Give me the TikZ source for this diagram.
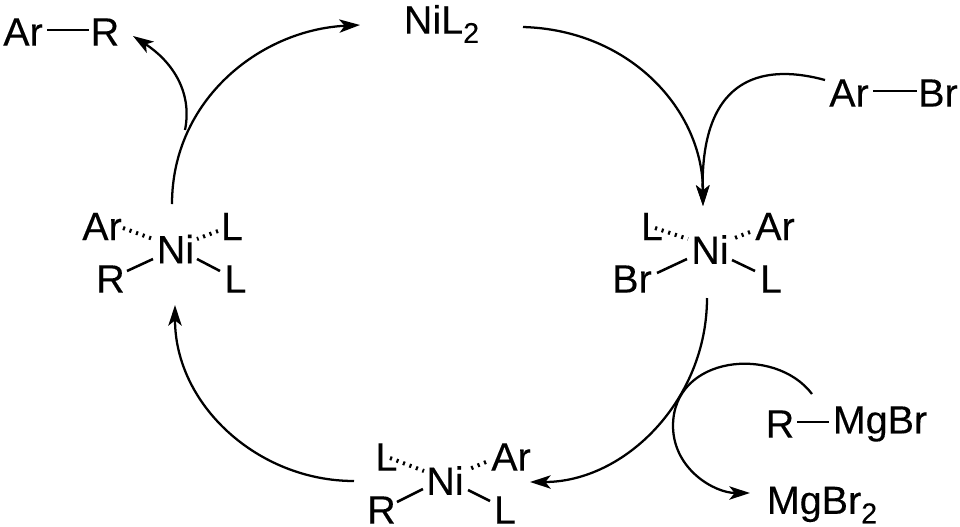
\documentclass[tikz,border=0pt]{standalone}
\usepackage{fontspec}
\setmainfont{Liberation Sans}[RawFeature={embolden=0.2}]
\usetikzlibrary{arrows.meta}
\newcommand{\subtwo}{\raisebox{-7pt}{\fontsize{21.5}{21.5}\selectfont 2}}
\tikzset{
 lbl/.style={inner sep=0pt,font=\fontsize{29.6}{31}\selectfont,text=black,anchor=center},
 bond/.style={line width=1.9pt,black},
 wedge/.style={line width=3pt,black,dash pattern=on 1.6pt off 3.6pt},
 cyc/.style={line width=1.7pt,black,-{Stealth[length=15.5pt,width=10pt,inset=4pt]}},
}
\begin{document}
\begin{tikzpicture}[x=0.75pt,y=-0.75pt]
\useasboundingbox (0,0) rectangle (960,526);
\fill[white] (0,0) rectangle (960,526);
% top
\node[lbl] (nil) at (441.5,24) {NiL\subtwo};
\node[lbl] (ar1) at (23,32) {Ar};
\node[lbl] (r1) at (105,32) {R};
\draw[bond] (47,30) coordinate (b1a) -- (89,30) coordinate (b1b);
\node[lbl] (ar2) at (849,93) {Ar};
\node[lbl] (br2) at (938,93) {Br};
\draw[bond] (873,91) coordinate (b2a) -- (917,91) coordinate (b2b);
\node[lbl] (r3) at (780,424) {R};
\node[lbl] (mg3) at (880,424) {MgBr};
\draw[bond] (797,422) coordinate (b3a) -- (829,422) coordinate (b3b);
\node[lbl] (mg4) at (822,505) {MgBr\subtwo};
% left complex
\node[lbl] (niL) at (175.5,249) {Ni};
\node[lbl] (aL) at (102,226.5) {Ar};
\node[lbl] (lL1) at (232,226.5) {L};
\node[lbl] (rL) at (110.5,279) {R};
\node[lbl] (lL2) at (235.5,279) {L};
\draw[wedge] (123,228) coordinate (w1) -- (153,239) coordinate (w2);
\draw[wedge] (218,231) coordinate (w3) -- (197,239) coordinate (w4);
\draw[bond] (127,271) coordinate (w5) -- (153,259) coordinate (w6);
\draw[bond] (197,259) coordinate (w7) -- (220,271) coordinate (w8);
% right complex
\node[lbl] (niR) at (710,249.5) {Ni};
\node[lbl] (lR1) at (652,226.5) {L};
\node[lbl] (aR) at (775,226.5) {Ar};
\node[lbl] (brR) at (632,279) {Br};
\node[lbl] (lR2) at (771,279) {L};
\draw[wedge] (655,228) coordinate (x1) -- (688,239) coordinate (x2);
\draw[wedge] (750,232) coordinate (x3) -- (732,239) coordinate (x4);
\draw[bond] (657,273) coordinate (x5) -- (687,259) coordinate (x6);
\draw[bond] (732,260) coordinate (x7) -- (755,271) coordinate (x8);
% bottom complex
\node[lbl] (niB) at (445,480.5) {Ni};
\node[lbl] (lB1) at (386.5,457) {L};
\node[lbl] (aB) at (511,457) {Ar};
\node[lbl] (rB) at (381.5,510) {R};
\node[lbl] (lB2) at (505,510) {L};
\draw[wedge] (390,458) coordinate (y1) -- (424,471) coordinate (y2);
\draw[wedge] (486,462) coordinate (y3) -- (467,470) coordinate (y4);
\draw[bond] (397,502) coordinate (y5) -- (423,489) coordinate (y6);
\draw[bond] (468,490) coordinate (y7) -- (490,501) coordinate (y8);
% cycle arrows
\coordinate (c1) at (172,204);
\coordinate (c2) at (360,25);
\coordinate (c3) at (523,27);
\coordinate (c4) at (703,206);
\coordinate (c5) at (707,298);
\coordinate (c6) at (530,482);
\coordinate (c7) at (354,481);
\coordinate (c8) at (175,305);
\coordinate (c9) at (185,130);
\coordinate (c10) at (133,36);
\coordinate (c11) at (825,80);
\coordinate (c12) at (812,394);
\coordinate (c13) at (750,493);
\draw[cyc] (c1) .. controls (172,100) and (260,30) .. (c2);
\draw[cyc] (c3) .. controls (630,30) and (703,110) .. (c4);
\draw[cyc] (c5) .. controls (707,400) and (625,482) .. (c6);
\draw[cyc] (c7) .. controls (258,481) and (175,405) .. (c8);
\draw[cyc] (c9) .. controls (193,90) and (170,60) .. (c10);
\draw[cyc] (c11) .. controls (770,65) and (700,70) .. (c4);
\draw[cyc] (c12) .. controls (775,345) and (672,355) .. (673,427) .. controls (674,470) and (715,493) .. (c13);
\end{tikzpicture}
\end{document}
